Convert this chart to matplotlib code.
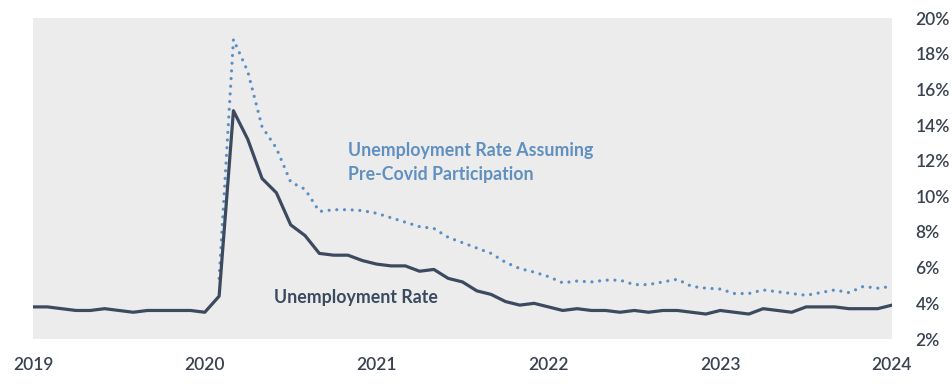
import numpy as np
import matplotlib.pyplot as plt

# Monthly data, Feb 2019 - Feb 2024 (index 0 = Feb 2019)
unemployment_rate = [
    3.8, 3.8, 3.7, 3.6, 3.6, 3.7, 3.6, 3.5, 3.6, 3.6, 3.6,            # 2019 Feb-Dec
    3.6, 3.5, 4.4, 14.8, 13.2, 11.0, 10.2, 8.4, 7.8, 6.8, 6.7, 6.7,   # 2020
    6.4, 6.2, 6.1, 6.1, 5.8, 5.9, 5.4, 5.2, 4.7, 4.5, 4.1, 3.9,       # 2021
    4.0, 3.8, 3.6, 3.7, 3.6, 3.6, 3.5, 3.6, 3.5, 3.6, 3.6, 3.5,       # 2022
    3.4, 3.6, 3.5, 3.4, 3.7, 3.6, 3.5, 3.8, 3.8, 3.8, 3.7, 3.7,       # 2023
    3.7, 3.9,                                                         # 2024 Jan-Feb
]

# Rate assuming pre-Covid participation, starts Mar 2020 (index 13)
precovid_start = 13
precovid_rate = [
    5.4, 18.8, 17.0, 13.9, 12.7, 10.8, 10.4, 9.15, 9.25, 9.25,
    9.2, 9.05, 8.8, 8.55, 8.3, 8.2, 7.7, 7.4, 7.1, 6.8, 6.3, 5.95,
    5.75, 5.5, 5.15, 5.25, 5.2, 5.3, 5.3, 5.05, 5.05, 5.2, 5.35, 4.95,
    4.85, 4.8, 4.55, 4.55, 4.75, 4.65, 4.55, 4.45, 4.6, 4.75, 4.6, 4.95,
    4.85, 4.95,
]

year_labels = ["2019", "2020", "2021", "2022", "2023", "2024"]
y_ticks = [2, 4, 6, 8, 10, 12, 14, 16, 18, 20]

navy = "#3c4a5f"
blue = "#5b8ec4"
label_blue = "#6090bf"
tick_color = "#3a4250"

plt.rcParams["font.family"] = ["Lato", "DejaVu Sans"]

fig = plt.figure(figsize=(9.53, 3.84), dpi=100)
ax = fig.add_axes([33 / 953, 1 - 339 / 384, (892 - 33) / 953, (339 - 18) / 384])
ax.set_facecolor("#ececec")

x_all = np.arange(len(unemployment_rate))
x_pre = np.arange(precovid_start, precovid_start + len(precovid_rate))

ax.plot(x_pre, precovid_rate, color=blue, linewidth=2.3,
        linestyle=(0, (0.01, 2.4)), dash_capstyle="round", zorder=2)
ax.plot(x_all, unemployment_rate, color=navy, linewidth=2.3,
        solid_joinstyle="round", zorder=3)

ax.set_xlim(0, 60)
ax.set_ylim(2, 20)

ax.set_xticks(range(0, 61, 12))
ax.set_xticklabels(year_labels)
ax.yaxis.tick_right()
ax.set_yticks(y_ticks)
ax.set_yticklabels([f"{v}%" for v in y_ticks])
ax.tick_params(axis="both", length=0, labelsize=12.5, colors=tick_color)
ax.tick_params(axis="x", pad=13)
ax.tick_params(axis="y", pad=17)
for lbl in ax.get_xticklabels() + ax.get_yticklabels():
    lbl.set_fontweight("semibold")
    lbl.set_color(tick_color)

for s in ax.spines.values():
    s.set_visible(False)

ax.text(22.0, 11.9, "Unemployment Rate Assuming\nPre-Covid Participation",
        color=label_blue, fontsize=12.8, fontweight="bold",
        va="center", ha="left", linespacing=1.45)
ax.text(16.8, 4.35, "Unemployment Rate", color=navy, fontsize=12.8,
        fontweight="bold", va="center", ha="left")

fig.savefig("out.png", dpi=100)
